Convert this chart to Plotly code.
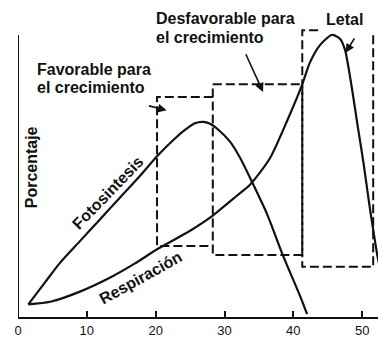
import plotly.graph_objects as go

# Temperature (°C) and percentage values for each process
photo_x = [1.5, 3.9, 6.1, 9.0, 11.9, 14.8, 17.7, 20.2, 22.8, 24.3, 25.7, 26.9, 27.9, 29.1, 30.8, 32.3, 34.0, 36.2, 38.4, 41.0, 42.0]
photo_y = [4.5, 12.2, 19.2, 26.9, 34.6, 42.3, 50.0, 57.0, 63.3, 66.4, 68.7, 69.2, 68.5, 66.4, 62.2, 56.3, 47.9, 36.4, 22.4, 7.3, 1.0]

resp_x = [1.5, 4.7, 9.0, 13.4, 17.0, 20.2, 25.0, 28.2, 31.8, 33.7, 36.6, 39.1, 41.3, 42.4, 43.9, 45.6, 46.8, 47.5, 48.3, 49.3, 50.2, 50.9, 51.5, 52.3, 52.9]
resp_y = [4.5, 5.4, 9.0, 14.0, 19.0, 24.0, 30.6, 35.8, 43.0, 46.9, 56.3, 69.6, 82.5, 90.2, 96.5, 100.0, 98.6, 94.8, 84.3, 68.5, 54.5, 42.3, 32.5, 20.6, 14.3]

# Temperature zones: start, end, top and bottom of each dashed frame
zone_names = ["Favorable", "Desfavorable", "Letal"]
zone_x0 = [20.2, 28.3, 41.3]
zone_x1 = [28.3, 41.3, 51.6]
zone_top = [78.0, 82.5, 101.7]
zone_bottom = [25.2, 22.0, 17.8]

tick_vals = [0, 10, 20, 30, 40, 50]
tick_text = ["0", "10", "20", "30", "40", "50"]

FONT = "Liberation Sans, Arial, Helvetica, sans-serif"
INK = "#111111"

fig = go.Figure()

# dashed zone frames
dash_line = dict(color=INK, width=2, dash="9px,4px")
for name, x0, x1, top, bot in zip(zone_names, zone_x0, zone_x1, zone_top, zone_bottom):
    if name == "Favorable":
        xs = [x1, x0, x0, x1]
        ys = [top, top, bot, bot]
    elif name == "Desfavorable":
        xs = [x0, x1, x1, x0, x0]
        ys = [top, top, bot, bot, top]
    else:
        xs = [x0 + 2.3, x0, x0, x1, x1]
        ys = [top, top, bot, bot, top - 1]
    fig.add_trace(go.Scatter(x=xs, y=ys, mode="lines", line=dash_line,
                             hoverinfo="skip", showlegend=False, name=name))

# process curves
fig.add_trace(go.Scatter(x=photo_x, y=photo_y, mode="lines", name="Fotosíntesis",
                         line=dict(color=INK, width=2.2, shape="spline", smoothing=0.7),
                         showlegend=False))
fig.add_trace(go.Scatter(x=resp_x, y=resp_y, mode="lines", name="Respiración",
                         line=dict(color=INK, width=2.2, shape="spline", smoothing=0.7),
                         showlegend=False))

# vertical axis line
fig.add_shape(type="line", x0=0, x1=0, y0=0, y1=100, xref="x", yref="y",
              line=dict(color=INK, width=2))

bold = dict(family=FONT, size=16, color=INK)

def label(text, x, y, angle=0, xanchor="center"):
    fig.add_annotation(x=x, y=y, xref="x", yref="y", text=f"<b>{text}</b>",
                       showarrow=False, textangle=angle, xanchor=xanchor,
                       yanchor="middle", font=bold)

label("Favorable para", 2.4, 87.8, xanchor="left")
label("el crecimiento", 2.4, 81.5, xanchor="left")
label("Desfavorable para", 19.7, 105.9, xanchor="left")
label("el crecimiento", 19.7, 99.0, xanchor="left")
label("Letal", 47.5, 105.6)
label("Fotosintesis", 13.1, 44.0, angle=-46)
label("Respiración", 17.9, 13.9, angle=-29)
label("Porcentaje", 2.0, 53.0, angle=-90)

# pointer arrows
def pointer(x_tail, y_tail, x_head, y_head):
    fig.add_annotation(x=x_head, y=y_head, ax=x_tail, ay=y_tail, xref="x", yref="y",
                       axref="x", ayref="y", text="", showarrow=True,
                       arrowhead=2, arrowsize=1.1, arrowwidth=1.6, arrowcolor=INK)

pointer(18.8, 75.0, 21.6, 73.3)
pointer(33.0, 93.7, 35.6, 79.8)
pointer(49.0, 99.3, 47.6, 93.7)

fig.update_xaxes(range=[0, 52.3], showline=True, linecolor=INK, linewidth=2,
                 ticks="inside", ticklen=6, tickwidth=2, tickcolor=INK,
                 tickvals=tick_vals, ticktext=tick_text, showgrid=False, zeroline=False,
                 automargin=False,
                 tickfont=dict(family=FONT, size=13, color=INK))
fig.update_yaxes(range=[0, 112.4], showline=False, showticklabels=False, ticks="",
                 showgrid=False, zeroline=False, automargin=False)

fig.update_layout(width=378, height=337, margin=dict(l=18, r=0, t=0, b=20),
                  paper_bgcolor="white", plot_bgcolor="white")

fig.write_html("out.html")
